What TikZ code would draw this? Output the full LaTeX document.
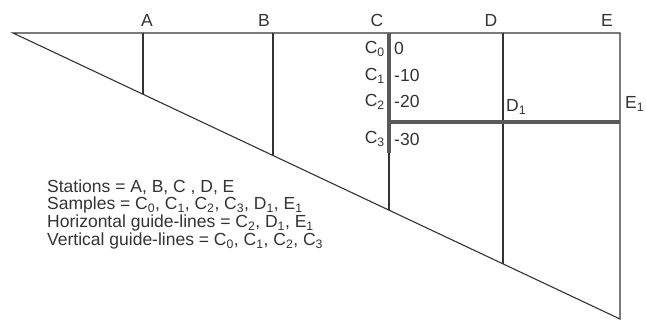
\documentclass[tikz,border=0pt]{standalone}
\usepackage{fontspec}
\setmainfont{Liberation Sans}
\begin{document}
\begin{tikzpicture}[x=1pt,y=-1pt,
  thinline/.style={draw=black!80,line width=1.1pt},
  thickline/.style={draw=black!65,line width=4pt},
  lbl/.style={text=black!80,font=\fontsize{17.5}{20}\selectfont,inner sep=0pt},
  legend/.style={text=black!80,font=\fontsize{17.5}{18}\selectfont,inner sep=0pt,anchor=west,align=left}]
\useasboundingbox (0,0) rectangle (646,322);
% frame points
\coordinate (apex) at (13,33);
\coordinate (tr) at (620,33);
\coordinate (br) at (620,319);
\coordinate (At) at (143,33); \coordinate (Ab) at (143,94.3);
\coordinate (Bt) at (273,33); \coordinate (Bb) at (273,155.5);
\coordinate (Ct) at (389,33); \coordinate (Cm) at (389,153); \coordinate (Cb) at (389,210.2);
\coordinate (Dt) at (503,33); \coordinate (Db) at (503,263.9);
\coordinate (Hl) at (389,122); \coordinate (Hr) at (620,122);
% lines
\draw[thinline] (apex) -- (tr) -- (br) -- cycle;
\draw[thinline] (At) -- (Ab);
\draw[thinline] (Bt) -- (Bb);
\draw[thinline] (Cm) -- (Cb);
\draw[thinline] (Dt) -- (Db);
\draw[thickline] (Hl) -- (Hr);
\draw[thickline] (Ct) -- (Cm);
% station labels
\node[lbl] (lA) at (147,20) {A};
\node[lbl] (lB) at (264,20) {B};
\node[lbl] (lC) at (377,20) {C};
\node[lbl] (lD) at (491,20) {D};
\node[lbl] (lE) at (607,20) {E};
% sample labels
\node[lbl,anchor=east] (c0) at (385,49) {C\textsubscript{0}};
\node[lbl,anchor=east] (c1) at (385,76) {C\textsubscript{1}};
\node[lbl,anchor=east] (c2) at (385,102) {C\textsubscript{2}};
\node[lbl,anchor=east] (c3) at (385,139) {C\textsubscript{3}};
\node[lbl,anchor=west] (v0) at (394,48) {0};
\node[lbl,anchor=west] (v1) at (394,75) {-10};
\node[lbl,anchor=west] (v2) at (394,101) {-20};
\node[lbl,anchor=west] (v3) at (394,139) {-30};
\node[lbl,anchor=west] (d1) at (506,107) {D\textsubscript{1}};
\node[lbl,anchor=west] (e1) at (625,104) {E\textsubscript{1}};
% legend
\node[legend] (l1) at (47,187) {Stations = A, B, C , D, E};
\node[legend] (l2) at (47,205) {Samples = C\textsubscript{0}, C\textsubscript{1}, C\textsubscript{2}, C\textsubscript{3}, D\textsubscript{1}, E\textsubscript{1}};
\node[legend] (l3) at (47,223) {Horizontal guide-lines = C\textsubscript{2}, D\textsubscript{1}, E\textsubscript{1}};
\node[legend] (l4) at (47,241) {Vertical guide-lines = C\textsubscript{0}, C\textsubscript{1}, C\textsubscript{2}, C\textsubscript{3}};
\end{tikzpicture}
\end{document}
